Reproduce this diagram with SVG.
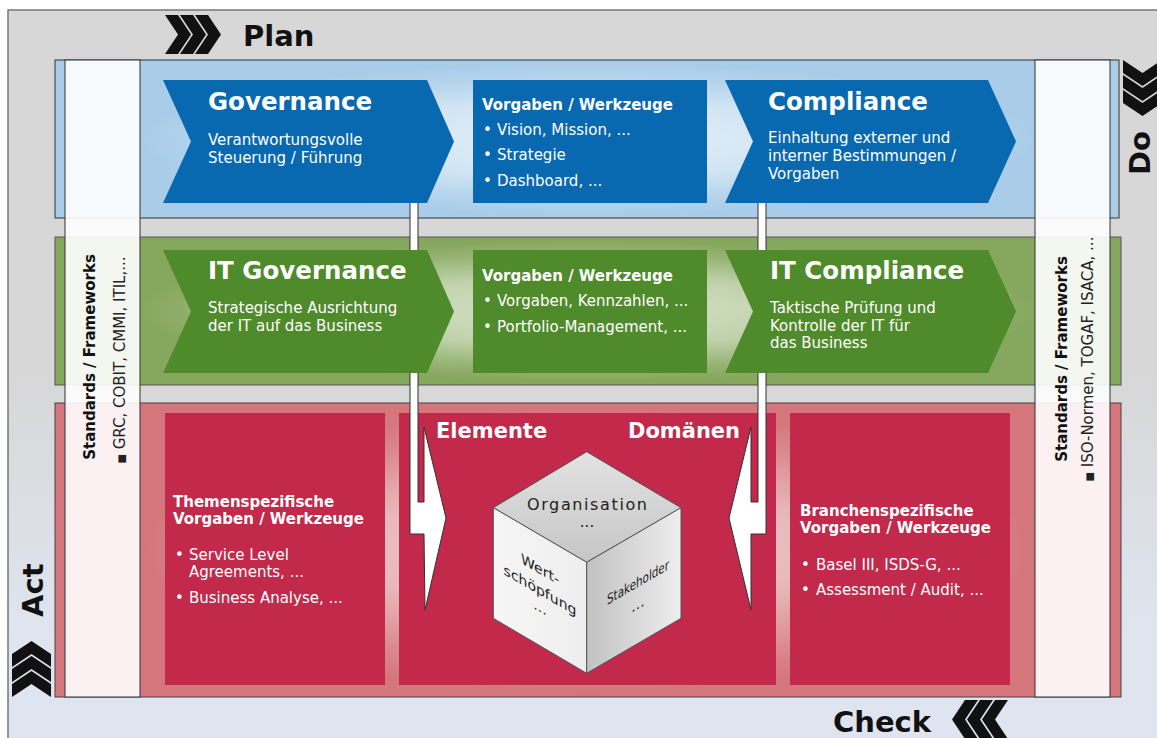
<svg xmlns="http://www.w3.org/2000/svg" width="1157" height="738" viewBox="0 0 1157 738">
<defs>
<linearGradient id="bg" gradientUnits="userSpaceOnUse" x1="0" y1="10" x2="0" y2="738">
<stop offset="0" stop-color="#d7d7d7"/><stop offset="0.5" stop-color="#d7d7d7"/><stop offset="0.85" stop-color="#dfe4ef"/><stop offset="1" stop-color="#dfe5f0"/>
</linearGradient>
<radialGradient id="glow" cx="0.5" cy="0.5" r="0.5">
<stop offset="0" stop-color="#fff" stop-opacity="0.68"/><stop offset="0.5" stop-color="#fff" stop-opacity="0.48"/><stop offset="0.8" stop-color="#fff" stop-opacity="0.15"/><stop offset="1" stop-color="#fff" stop-opacity="0"/>
</radialGradient>
<linearGradient id="cubeTop" x1="0" y1="0" x2="0" y2="1">
<stop offset="0" stop-color="#e2e2e2"/><stop offset="1" stop-color="#c6c6c6"/>
</linearGradient>
<linearGradient id="cubeLeft" x1="0" y1="0" x2="1" y2="0">
<stop offset="0" stop-color="#f6f6f6"/><stop offset="1" stop-color="#eeeeee"/>
</linearGradient>
<linearGradient id="cubeRight" x1="0" y1="0" x2="1" y2="0">
<stop offset="0" stop-color="#c2c2c2"/><stop offset="1" stop-color="#eeeeee"/>
</linearGradient>
<g id="chev3">
<polygon points="0,0 13,0 26,19.5 13,39 0,39 13,19.5"/>
<polygon points="15,0 28,0 41,19.5 28,39 15,39 28,19.5"/>
<polygon points="30,0 43,0 56,19.5 43,39 30,39 43,19.5"/>
</g>
</defs>
<style>
text{font-family:"DejaVu Sans",Verdana,sans-serif}
.w{fill:#fff}
.ttl{font-size:24.5px;font-weight:bold;fill:#fff}
.b{font-size:15px;fill:#fff}
.hb{font-size:15px;font-weight:bold;fill:#fff}
.phase{font-size:29px;font-weight:bold;fill:#111}
.colb{font-size:15px;font-weight:bold;fill:#111}
.col{font-size:15px;fill:#222}
.sq{font-size:10px}
.blue{fill:#0868b0}
.green{fill:#4f8a2b}
.red{fill:#c2294a}
.bar{fill:#fff;stroke:#333;stroke-width:1}
.cube{stroke:#555;stroke-width:1}
.ct{fill:#222}
</style>

<g id="background">
<rect x="8" y="10" width="1160" height="740" fill="url(#bg)" stroke="#777" stroke-width="1.5"/>
</g>

<g id="phase-plan">
<use href="#chev3" transform="translate(165,15)" fill="#111"/>
<text class="phase" x="243" y="46">Plan</text>
</g>
<g id="phase-do">
<use href="#chev3" transform="translate(1162,60) rotate(90)" fill="#111"/>
<text class="phase" transform="translate(1150,175) rotate(-90)">Do</text>
</g>
<g id="phase-check">
<use href="#chev3" transform="translate(1008,700) scale(-1,1)" fill="#111"/>
<text class="phase" x="833" y="732">Check</text>
</g>
<g id="phase-act">
<use href="#chev3" transform="translate(12,697) rotate(-90)" fill="#111"/>
<text class="phase" transform="translate(43,617) rotate(-90)">Act</text>
</g>

<g id="band-governance">
<rect x="55" y="60" width="1064" height="158" fill="#a9cde9" stroke="#333" stroke-width="1"/>
<rect x="140" y="64" width="895" height="150" fill="url(#glow)"/>
</g>
<g id="band-itgovernance">
<rect x="55" y="237" width="1066" height="148" fill="#86a85e" stroke="#555" stroke-width="1"/>
<rect x="140" y="241" width="895" height="140" fill="url(#glow)"/>
</g>
<g id="band-operations">
<rect x="55" y="403" width="1066" height="294" fill="#d4767c" stroke="#444" stroke-width="1"/>
<rect x="140" y="407" width="895" height="286" fill="url(#glow)"/>
</g>

<g id="node-themen">
<rect class="red" x="165" y="413" width="220" height="272"/>
<text class="hb" x="173" y="507">Themenspezifische</text>
<text class="hb" x="173" y="524">Vorgaben / Werkzeuge</text>
<text class="b" x="175" y="560">•</text><text class="b" x="189" y="560">Service Level</text>
<text class="b" x="189" y="577">Agreements, ...</text>
<text class="b" x="175" y="603">•</text><text class="b" x="189" y="603">Business Analyse, ...</text>
</g>
<g id="node-domaenen">
<rect class="red" x="399" y="413" width="377" height="272"/>
<text class="w" x="436" y="438" font-size="21" font-weight="bold">Elemente</text>
<text class="w" x="628" y="438" font-size="21" font-weight="bold">Domänen</text>
</g>
<g id="node-branchen">
<rect class="red" x="790" y="413" width="220" height="272"/>
<text class="hb" x="800" y="516">Branchenspezifische</text>
<text class="hb" x="800" y="533">Vorgaben / Werkzeuge</text>
<text class="b" x="801" y="570">•</text><text class="b" x="816" y="570">Basel III, ISDS-G, ...</text>
<text class="b" x="801" y="595">•</text><text class="b" x="816" y="595">Assessment / Audit, ...</text>
</g>

<g id="connectors">
<polygon class="bar" points="410,200 410,534 424,534 425,610 446,518 424,427 424,502 418,502 418,200"/>
<polygon class="bar" points="766,200 766,534 751,534 751,610 729,518 751,427 751,502 758,502 758,200"/>
</g>

<g id="node-governance">
<polygon class="blue" points="163,80 427,80 454,141.5 427,203 163,203 191,141.5"/>
<text class="ttl" x="208" y="110">Governance</text>
<text class="b" x="208" y="145">Verantwortungsvolle</text>
<text class="b" x="208" y="163">Steuerung / Führung</text>
</g>
<g id="node-vorgaben1">
<rect class="blue" x="473" y="80" width="234" height="123"/>
<text class="hb" x="482" y="110">Vorgaben / Werkzeuge</text>
<text class="b" x="483" y="135">•</text><text class="b" x="497" y="135">Vision, Mission, ...</text>
<text class="b" x="483" y="160">•</text><text class="b" x="497" y="160">Strategie</text>
<text class="b" x="483" y="186">•</text><text class="b" x="497" y="186">Dashboard, ...</text>
</g>
<g id="node-compliance">
<polygon class="blue" points="725,80 988,80 1016,141.5 988,203 725,203 753,141.5"/>
<text class="ttl" x="768" y="110">Compliance</text>
<text class="b" x="768" y="143">Einhaltung externer und</text>
<text class="b" x="768" y="161">interner Bestimmungen /</text>
<text class="b" x="768" y="179">Vorgaben</text>
</g>

<g id="node-itgovernance">
<polygon class="green" points="163,250 427,250 454,311.5 427,373 163,373 191,311.5"/>
<text class="ttl" x="208" y="279">IT Governance</text>
<text class="b" x="208" y="313">Strategische Ausrichtung</text>
<text class="b" x="208" y="331">der IT auf das Business</text>
</g>
<g id="node-vorgaben2">
<rect class="green" x="473" y="250" width="234" height="123"/>
<text class="hb" x="482" y="281">Vorgaben / Werkzeuge</text>
<text class="b" x="483" y="306">•</text><text class="b" x="497" y="306">Vorgaben, Kennzahlen, ...</text>
<text class="b" x="483" y="332">•</text><text class="b" x="497" y="332">Portfolio-Management, ...</text>
</g>
<g id="node-itcompliance">
<polygon class="green" points="725,250 988,250 1016,311.5 988,373 725,373 753,311.5"/>
<text class="ttl" x="770" y="279">IT Compliance</text>
<text class="b" x="770" y="313">Taktische Prüfung und</text>
<text class="b" x="770" y="330.5">Kontrolle der IT für</text>
<text class="b" x="770" y="348">das Business</text>
</g>

<g id="node-standards-left">
<rect x="65" y="60" width="75" height="637" fill="#fff" fill-opacity="0.9" stroke="#333" stroke-width="1"/>
<text class="colb" transform="translate(95,357) rotate(-90)" text-anchor="middle">Standards / Frameworks</text>
<text class="col" transform="translate(125,360) rotate(-90)" text-anchor="middle"><tspan class="sq">■</tspan> GRC, COBIT, CMMI, ITIL,...</text>
</g>
<g id="node-standards-right">
<rect x="1035" y="60" width="75" height="637" fill="#fff" fill-opacity="0.9" stroke="#333" stroke-width="1"/>
<text class="colb" transform="translate(1067,359) rotate(-90)" text-anchor="middle">Standards / Frameworks</text>
<text class="col" transform="translate(1093,359) rotate(-90)" text-anchor="middle"><tspan class="sq">■</tspan> ISO-Normen, TOGAF, ISACA, ...</text>
</g>

<g id="node-cube">
<path class="cube" fill="url(#cubeTop)" d="M586.7,451.7 L681,507.7 L586.7,562.3 L493.3,507.7 Z"/>
<path class="cube" fill="url(#cubeLeft)" d="M493.3,507.7 L586.7,562.3 L586.7,673.3 L493.3,618.3 Z"/>
<path class="cube" fill="url(#cubeRight)" d="M586.7,562.3 L681,507.7 L681,618.3 L586.7,673.3 Z"/>
<text class="ct" x="587" y="510" font-size="16" text-anchor="middle" textLength="120">Organisation</text>
<text class="ct" x="587" y="527" font-size="15" text-anchor="middle">...</text>
<g transform="translate(540,590) skewY(30)">
<text class="ct" x="0" y="-16" font-size="14" text-anchor="middle">Wert-</text>
<text class="ct" x="0" y="5" font-size="14" text-anchor="middle">schöpfung</text>
<text class="ct" x="0" y="22" font-size="14" text-anchor="middle">...</text>
</g>
<g transform="translate(638,583) skewY(-30)">
<text class="ct" x="0" y="4" font-size="14" text-anchor="middle" textLength="62" lengthAdjust="spacingAndGlyphs">Stakeholder</text>
<text class="ct" x="0" y="26" font-size="14" text-anchor="middle">...</text>
</g>
</g>
</svg>
